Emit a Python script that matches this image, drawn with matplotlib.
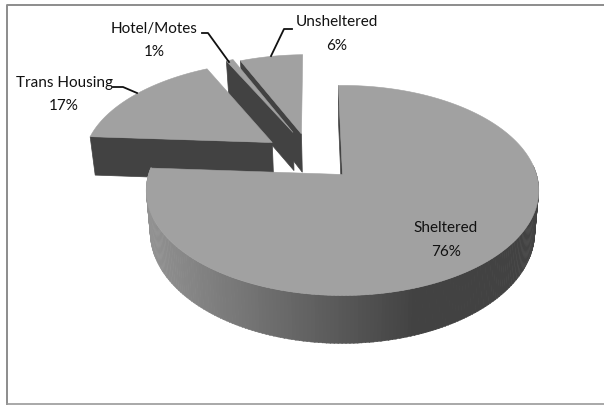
import numpy as np
import matplotlib
matplotlib.use('Agg')
import matplotlib.pyplot as plt
from matplotlib.patches import Polygon

# datos del grafico
categories = ['Sheltered', 'Trans Housing', 'Hotel/Motes', 'Unsheltered']
shares = [76.4, 16.6, 0.7, 6.3]
pct_labels = ['76%', '17%', '1%', '6%']

# desplazamiento de cada porcion (explode) en el plano del pastel
offsets = [(0.0, 0.0), (-0.38, -0.327), (-0.272, -0.437), (-0.225, -0.42)]

START = -1.4     # grados, sentido horario desde arriba
CX, CY = 342.5, 174.5
A, B, K = 102.6, 194, 0.152
DEPTH = 40.7
TOP_COL = '#a1a1a1'
DARK = '#424242'


def project(u, v, low=False):
    # perspectiva simple del plano del pastel a pixeles
    w = 1 - K * v
    x = B * u / w
    y = A * v / w
    if low:
        return CX + x * 0.98, CY + y + DEPTH / w
    return CX + x, CY + y


def arc_points(a0, a1, off, low=False):
    th = np.radians(np.linspace(a0, a1, max(int(abs(a1 - a0)) * 2, 2) + 1))
    return project(off[0] + np.sin(th), off[1] - np.cos(th), low)


def cut_face(ax, ang, off):
    # cara lateral plana de una porcion
    t = np.radians(ang)
    corners = [project(off[0], off[1]),
               project(off[0] + np.sin(t), off[1] - np.cos(t)),
               project(off[0] + np.sin(t), off[1] - np.cos(t), True),
               project(off[0], off[1], True)]
    ax.add_patch(Polygon(corners, closed=True, fc=DARK, ec=DARK, lw=0.5))


def top_face(ax, a0, a1, off):
    xs, ys = arc_points(a0, a1, off)
    ax0, ay0 = project(off[0], off[1])
    pts = np.column_stack([np.r_[ax0, xs], np.r_[ay0, ys]])
    ax.add_patch(Polygon(pts, closed=True, fc=TOP_COL, ec=TOP_COL, lw=0.4))


def wall_color(x):
    g = np.interp(x, [147, 415, 540], [0x92, 0x42, 0x42]) / 255
    return (g, g, g)


edges = START + np.r_[0, np.cumsum(shares)] * 3.6

fig = plt.figure(figsize=(6.04, 4.05), dpi=100)
ax = fig.add_axes([0, 0, 1, 1])
ax.set_xlim(0, 604)
ax.set_ylim(405, 0)
ax.axis('off')

# marco
ax.plot([6.5, 6.5, 604], [405, 4.5, 4.5], color='#8c8c8c', lw=1.4, solid_capstyle='butt')
ax.plot([6.5, 604], [404, 404], color='#9a9a9a', lw=1.2)

# porciones de atras hacia adelante
cut_face(ax, edges[3], offsets[3])
top_face(ax, edges[3], edges[4], offsets[3])
cut_face(ax, edges[2], offsets[2])
top_face(ax, edges[2], edges[3], offsets[2])
cut_face(ax, edges[1], offsets[1])
top_face(ax, edges[1], edges[2], offsets[1])

# porcion grande: pared curva con degradado
cut_face(ax, edges[0], offsets[0])
wall = np.arange(85, edges[1], 1.0)
for a in wall:
    xa, ya = arc_points(a, a + 1.2, offsets[0])
    xb, yb = arc_points(a, a + 1.2, offsets[0], True)
    pts = np.column_stack([np.r_[xa, xb[::-1]], np.r_[ya, yb[::-1]]])
    c = wall_color(xa.mean())
    ax.add_patch(Polygon(pts, closed=True, fc=c, ec=c, lw=0.3))
top_face(ax, edges[0], edges[1], offsets[0])

# lineas guia
ax.plot([113, 123, 137], [87, 87, 93], color='#111111', lw=1.3, solid_joinstyle='round')
ax.plot([202, 208, 229], [33, 33, 62], color='#111111', lw=1.3)
ax.plot([292, 284, 271], [29, 29, 56], color='#111111', lw=1.3)

# etiquetas
label_pos = [(446, 228), (64, 83), (154, 29), (336.5, 22)]
for name, pct, (lx, ly) in zip(categories, pct_labels, label_pos):
    ax.text(lx, ly, name, ha='center', va='center', fontsize=11, family='Lato', color='#111111')
    ax.text(lx, ly + 23.5, pct, ha='center', va='center', fontsize=11, family='Lato', color='#111111')

fig.savefig('out.png', dpi=100)
